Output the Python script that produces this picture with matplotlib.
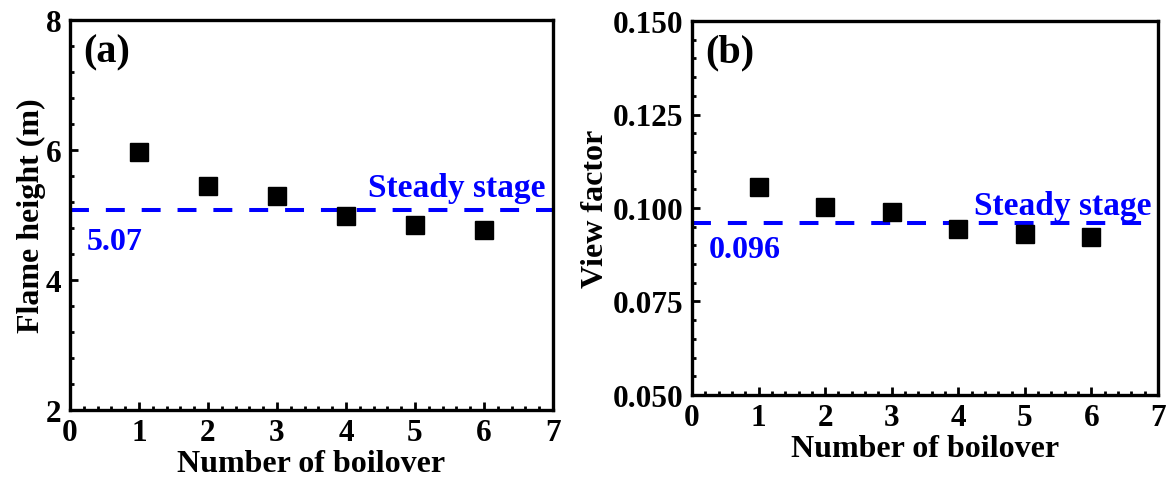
import matplotlib
matplotlib.use("Agg")
import matplotlib.pyplot as plt
from matplotlib.ticker import MultipleLocator, FormatStrFormatter

plt.rcParams['font.family'] = ['Liberation Serif', 'DejaVu Serif']
plt.rcParams['font.weight'] = 'bold'

# Data
boilover_num = [1, 2, 3, 4, 5, 6]
flame_height = [5.97, 5.45, 5.30, 4.99, 4.85, 4.77]
view_factor = [0.1056, 0.1003, 0.0988, 0.0943, 0.0930, 0.0923]
steady_height = 5.07
steady_vf = 0.096
height_label = "5.07"
vf_label = "0.096"

W, H = 1166, 481
fig = plt.figure(figsize=(W / 100, H / 100), dpi=100)

def px_axes(l, t, r, b):
    return fig.add_axes([l / W, 1 - b / H, (r - l) / W, (b - t) / H])

ax1 = px_axes(70, 21, 553, 411)
ax2 = px_axes(692, 22, 1158, 396)

blue = '#0000ff'
tick_fs = 22.5
label_fs = 23

def style(ax):
    for s in ax.spines.values():
        s.set_linewidth(2.4)
    ax.tick_params(which='both', direction='in', top=False, right=False,
                   labelsize=tick_fs, width=2.0, pad=6)
    ax.tick_params(which='major', length=6)
    ax.tick_params(which='minor', length=3)
    ax.set_xlim(0, 7)
    ax.xaxis.set_major_locator(MultipleLocator(1))
    ax.xaxis.set_minor_locator(MultipleLocator(0.2))
    for lab in ax.get_xticklabels() + ax.get_yticklabels():
        lab.set_fontweight('bold')
    ax.set_xlabel("Number of boilover", fontsize=label_fs, fontweight='bold', labelpad=1)

# Panel (a)
ax1.plot(boilover_num, flame_height, linestyle='none', marker='s', markersize=13.5,
         color='black', zorder=3)
ax1.axhline(steady_height, color=blue, lw=2.9, linestyle=(0, (4.7, 4.2)), zorder=2)
ax1.set_ylim(2, 8)
ax1.yaxis.set_major_locator(MultipleLocator(2))
ax1.yaxis.set_minor_locator(MultipleLocator(0.4))
style(ax1)
ax1.set_ylabel("Flame height (m)", fontsize=label_fs, fontweight='bold', labelpad=0)
ax1.text(0.028, 0.918, "(a)", transform=ax1.transAxes, fontsize=29, fontweight='bold',
         ha='left', va='center')
ax1.text(0.985, 5.42, "Steady stage", transform=ax1.get_yaxis_transform(),
         fontsize=24, fontweight='bold', color=blue, ha='right', va='center')
ax1.text(0.035, 4.6, height_label, transform=ax1.get_yaxis_transform(),
         fontsize=23, fontweight='bold', color=blue, ha='left', va='center')

# Panel (b)
ax2.plot(boilover_num, view_factor, linestyle='none', marker='s', markersize=13.5,
         color='black', zorder=3)
ax2.axhline(steady_vf, color=blue, lw=2.9, linestyle=(0, (4.7, 4.2)), zorder=2)
ax2.set_ylim(0.05, 0.15)
ax2.yaxis.set_major_locator(MultipleLocator(0.025))
ax2.yaxis.set_minor_locator(MultipleLocator(0.005))
ax2.yaxis.set_major_formatter(FormatStrFormatter('%.3f'))
style(ax2)
ax2.set_ylabel("View factor", fontsize=label_fs, fontweight='bold', labelpad=2)
ax2.text(0.028, 0.918, "(b)", transform=ax2.transAxes, fontsize=29, fontweight='bold',
         ha='left', va='center')
ax2.text(0.985, 0.1008, "Steady stage", transform=ax2.get_yaxis_transform(),
         fontsize=24, fontweight='bold', color=blue, ha='right', va='center')
ax2.text(0.035, 0.0890, vf_label, transform=ax2.get_yaxis_transform(),
         fontsize=23, fontweight='bold', color=blue, ha='left', va='center')

fig.savefig("out.png", dpi=100)
